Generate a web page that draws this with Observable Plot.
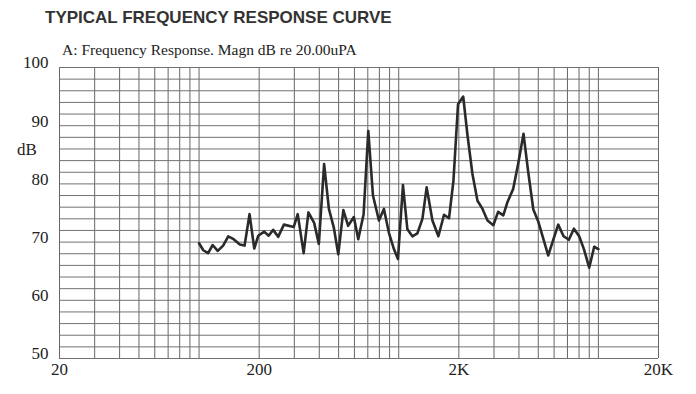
<!DOCTYPE html>
<html><head><meta charset="utf-8">
<script src="https://cdn.jsdelivr.net/npm/d3@7"></script>
<script src="https://cdn.jsdelivr.net/npm/@observablehq/plot@0.6"></script>
<style>
body{margin:0;background:#fff;}
#wrap{position:relative;width:696px;height:394px;overflow:hidden;background:#fff;}
#chart{position:absolute;left:0;top:0;}
.lab{position:absolute;white-space:nowrap;line-height:1;}
#title{left:45px;top:8px;font:bold 17px "Liberation Sans",Arial,sans-serif;color:#333;}
#sub{left:62px;top:41px;font:15.5px "Liberation Serif",serif;color:#222;}
#db{left:17px;top:140px;font:17px "Liberation Serif",serif;color:#222;}
</style></head>
<body>
<div id="wrap">
  <div id="chart"></div>
  <div class="lab" id="title">TYPICAL FREQUENCY RESPONSE CURVE</div>
  <div class="lab" id="sub">A: Frequency Response. Magn dB re 20.00uPA</div>
  <div class="lab" id="db">dB</div>
</div>
<script>
const freq = [100,105,111,117,124,132,140,149,160,169,179,189,198,212,223,235,249,266,298,312,334,353,377,398,423,447,473,498,528,558,596,627,667,704,743,796,843,893,946,991,1050,1105,1171,1240,1314,1380,1475,1580,1686,1786,1879,1982,2104,2209,2340,2480,2628,2784,2977,3146,3340,3506,3740,3963,4217,4446,4722,4992,5604,6290,6693,7114,7538,8012,8460,8995,9528,10000];
const level = [69.8,68.6,68.1,69.5,68.5,69.4,71.0,70.5,69.6,69.4,74.8,68.9,71.1,71.8,71.1,72.1,70.9,73.0,72.6,74.8,68.1,75.1,73.3,69.7,83.4,75.7,72.5,67.9,75.5,72.8,74.3,70.5,74.8,89.1,78.0,73.7,75.7,71.6,68.8,67.1,79.8,72.2,71.0,71.5,74.0,79.4,73.7,71.0,74.7,74.1,80.5,93.7,95.0,88.4,81.7,77.1,75.7,73.7,72.9,75.2,74.6,76.9,79.1,83.4,88.6,82.2,75.6,73.6,67.7,73.0,71.0,70.4,72.3,71.0,68.8,65.6,69.2,68.8];
const xGrid = [20,30,40,50,60,70,80,90,100,200,300,400,500,600,700,800,900,1000,2000,3000,4000,5000,6000,7000,8000,9000,10000,20000];
const yGrid = [50,52,54,56,58,60,62,64,66,68,70,72,74,76,78,80,82,84,86,88,90,92,94,96,98,100];
const xTicks = [20,200,640,2000,20000];
const xTickLabels = ["20","200","Hz","2K","20K"];
const yTicks = [50,60,70,80,90,100];

const data = freq.map((f,i)=>({f, db: level[i]}));
const labelOf = new Map(xTicks.map((t,i)=>[t, xTickLabels[i]]));

const chart = Plot.plot({
  width: 696,
  height: 394,
  marginLeft: 59,
  marginRight: 38,
  marginTop: 67,
  marginBottom: 36,
  style: {background: "#fff", fontFamily: "'Liberation Serif', serif", fontSize: "17px", color: "#222"},
  x: {type: "log", domain: [20, 20000]},
  y: {domain: [50, 100]},
  marks: [
    Plot.ruleX(xGrid, {stroke: "#666", strokeWidth: 1}),
    Plot.ruleY(yGrid, {stroke: "#727272", strokeWidth: 1}),
    Plot.axisX({ticks: xTicks, tickFormat: d => labelOf.get(d), tickSize: 0, tickPadding: 4, label: null, fontSize: 17}),
    Plot.axisY({ticks: yTicks, tickSize: 0, tickPadding: 11, label: null, dy: -4.5, fontSize: 17}),
    Plot.line(data, {x: "f", y: "db", stroke: "#2a2a2a", strokeWidth: 2.6})
  ]
});
document.getElementById("chart").appendChild(chart);
</script>
</body></html>
